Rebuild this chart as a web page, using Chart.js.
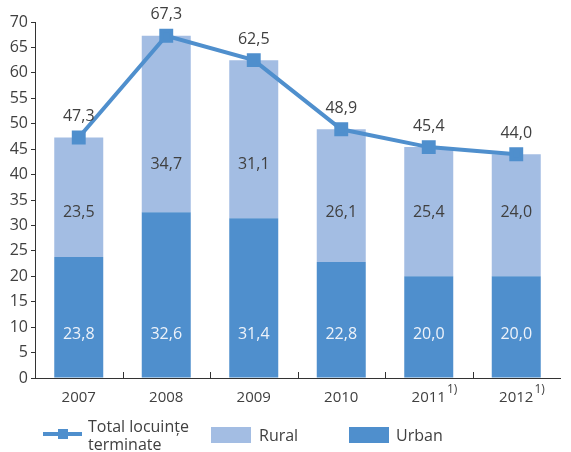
<!DOCTYPE html>
<html>
<head>
<meta charset="utf-8">
<script src="https://cdn.jsdelivr.net/npm/chart.js@4/dist/chart.umd.min.js"></script>
<style>
  body { margin: 0; background: #fff; font-family: "Open Sans", sans-serif; }
  .wrap { position: relative; width: 571px; height: 452px; }
  canvas { position: absolute; left: 0; top: 0; }
  .legend { position: absolute; font-size: 16px; color: #404040; line-height: 18px; }
  .swatch { position: absolute; }
</style>
</head>
<body>
<div class="wrap">
  <canvas id="myChart" width="571" height="452"></canvas>
  <div class="swatch" style="left:43px;top:432px;width:39px;height:4px;background:#4f8fcd"></div>
  <div class="swatch" style="left:58px;top:429px;width:10px;height:10px;background:#4f8fcd"></div>
  <div class="legend" style="left:88px;top:417px">Total locuințe<br>terminate</div>
  <div class="swatch" style="left:211px;top:427px;width:40px;height:16px;background:#a3bde3"></div>
  <div class="legend" style="left:259px;top:426px">Rural</div>
  <div class="swatch" style="left:349px;top:427px;width:40px;height:16px;background:#4f8fcd"></div>
  <div class="legend" style="left:396px;top:426px">Urban</div>
</div>
<script>
const years = ["2007", "2008", "2009", "2010", "2011", "2012"];
const footnotes = ["", "", "", "", "1)", "1)"];
const urban = [23.8, 32.6, 31.4, 22.8, 20.0, 20.0];
const rural = [23.5, 34.7, 31.1, 26.1, 25.4, 24.0];
const total = [47.3, 67.3, 62.5, 48.9, 45.4, 44.0];
const yTicks = [0, 5, 10, 15, 20, 25, 30, 35, 40, 45, 50, 55, 60, 65, 70];

// label placement (pixels above the x axis) - as in the original layout
const urbanLabelLift = 44;
const ruralLabelLift = [166, 214, 214, 166, 166, 166];

const fmt = (v) => v.toFixed(1).replace(".", ",");

const labelsPlugin = {
  id: "labelsPlugin",
  afterDatasetsDraw(chart) {
    const ctx = chart.ctx;
    const x = chart.scales.x;
    const y = chart.scales.y;
    const base = y.getPixelForValue(0);
    const half = (x.getPixelForValue(1) - x.getPixelForValue(0)) / 2;
    ctx.save();

    // x axis ticks pointing up, between categories
    ctx.strokeStyle = "#333";
    ctx.lineWidth = 1;
    for (let i = 1; i < years.length; i++) {
      const px = Math.round(x.getPixelForValue(i) - half) + 0.5;
      ctx.beginPath();
      ctx.moveTo(px, base);
      ctx.lineTo(px, base - 6);
      ctx.stroke();
    }

    ctx.textAlign = "center";
    ctx.textBaseline = "middle";

    // x labels with footnote marks
    years.forEach((yr, i) => {
      const px = x.getPixelForValue(i);
      ctx.font = "15px 'Open Sans'";
      ctx.fillStyle = "#404040";
      ctx.fillText(yr, px, base + 20);
      if (footnotes[i]) {
        const w = ctx.measureText(yr).width;
        ctx.font = "12px 'Open Sans'";
        ctx.textAlign = "left";
        ctx.fillText(footnotes[i], px + w / 2 + 1, base + 12);
        ctx.textAlign = "center";
      }
    });

    ctx.font = "16px 'Open Sans'";
    // segment labels
    urban.forEach((v, i) => {
      const px = x.getPixelForValue(i);
      ctx.fillStyle = "#eef3fa";
      ctx.fillText(fmt(v), px, base - urbanLabelLift);
      ctx.fillStyle = "#404040";
      ctx.fillText(fmt(rural[i]), px, base - ruralLabelLift[i]);
    });

    // total labels above points
    const meta = chart.getDatasetMeta(2);
    meta.data.forEach((pt, i) => {
      ctx.fillStyle = "#404040";
      ctx.fillText(fmt(total[i]), pt.x, pt.y - 21);
    });
    ctx.restore();
  },
};

const ctx = document.getElementById("myChart").getContext("2d");
const myChart = new Chart(ctx, {
  type: "bar",
  data: {
    labels: years,
    datasets: [
      {
        label: "Urban",
        data: urban,
        backgroundColor: "#4f8fcd",
        stack: "bars",
        order: 2,
      },
      {
        label: "Rural",
        data: rural,
        backgroundColor: "#a3bde3",
        stack: "bars",
        order: 2,
      },
      {
        type: "line",
        label: "Total locuințe terminate",
        data: total,
        borderColor: "#4f8fcd",
        backgroundColor: "#4f8fcd",
        borderWidth: 4,
        pointStyle: "rect",
        pointRadius: 7,
        pointHoverRadius: 7,
        stack: "total",
        order: 1,
      },
    ],
  },
  options: {
    responsive: false,
    animation: false,
    layout: { padding: { top: 22, right: 0, left: 0, bottom: 0 } },
    plugins: { legend: { display: false }, tooltip: { enabled: false } },
    datasets: { bar: { categoryPercentage: 1, barPercentage: 0.56 } },
    scales: {
      x: {
        stacked: true,
        grid: { display: false },
        border: { display: true, color: "#333", width: 1 },
        ticks: { display: false },
        afterFit: (s) => { s.height = 74; },
      },
      y: {
        stacked: true,
        min: 0,
        max: 70,
        afterBuildTicks: (s) => { s.ticks = yTicks.map((v) => ({ value: v })); },
        grid: { drawOnChartArea: false, tickLength: 4, color: "#333" },
        border: { display: true, color: "#333", width: 1 },
        ticks: {
          color: "#404040",
          font: { family: "'Open Sans'", size: 16 },
          padding: 3,
        },
        afterFit: (s) => { s.width = 35; },
      },
    },
  },
  plugins: [labelsPlugin],
});
</script>
</body>
</html>
